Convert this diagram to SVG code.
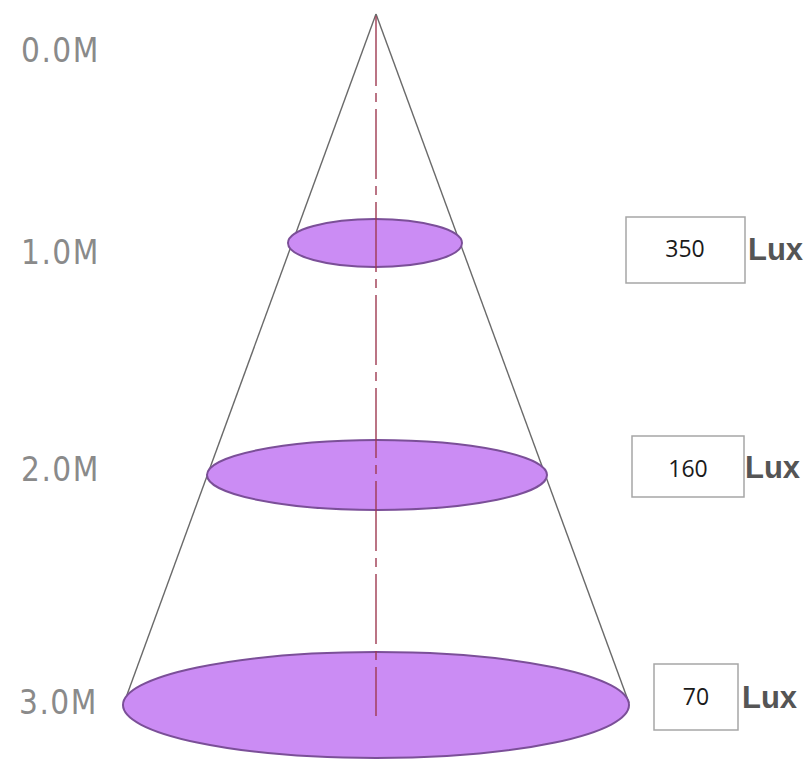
<svg xmlns="http://www.w3.org/2000/svg" width="806" height="771" viewBox="0 0 806 771">
<defs>
<style>
.disc{fill:#cb8cf4;stroke:#7b4f98;stroke-width:2}
.edge{stroke:#6a6a6a;stroke-width:1.4;fill:none}
.axis{stroke:#9e3a52;stroke-width:1.4;stroke-dasharray:70 7 9 7;fill:none}
.m{font-family:"DejaVu Sans Condensed","DejaVu Sans","Liberation Sans",sans-serif;font-size:33px;fill:#8a8a8a;letter-spacing:1.5px}
.box{fill:#fff;stroke:#a6a6a6;stroke-width:1.5}
.val{font-family:"Open Sans","Liberation Sans",sans-serif;font-size:23px;fill:#1a1a1a;text-anchor:middle}
.lux{font-family:"Liberation Sans",sans-serif;font-size:31px;fill:#555555;font-weight:bold}
</style>
</defs>
<rect width="806" height="771" fill="#fff"/>
<g id="connectors">
<line class="edge" x1="376" y1="14" x2="124" y2="703"/>
<line class="edge" x1="376" y1="14" x2="629" y2="703"/>
</g>
<g id="disc3"><ellipse class="disc" cx="376" cy="705" rx="253" ry="53"/></g>
<g id="disc2"><ellipse class="disc" cx="377" cy="475" rx="170" ry="35"/></g>
<g id="disc1"><ellipse class="disc" cx="375" cy="243" rx="87" ry="24"/></g>
<g id="axis"><line class="axis" x1="376" y1="16" x2="376" y2="716"/></g>
<g id="labels">
<text class="m" x="21" y="62">0.0M</text>
<text class="m" x="21" y="264">1.0M</text>
<text class="m" x="21" y="481">2.0M</text>
<text class="m" x="19" y="714">3.0M</text>
</g>
<g id="lux350"><rect class="box" x="626" y="217" width="119" height="66"/><text class="val" x="685" y="257">350</text><text class="lux" x="748" y="260">Lux</text></g>
<g id="lux160"><rect class="box" x="632" y="436" width="112" height="61"/><text class="val" x="688" y="477">160</text><text class="lux" x="745" y="478">Lux</text></g>
<g id="lux70"><rect class="box" x="654" y="664" width="84" height="66"/><text class="val" x="696" y="705">70</text><text class="lux" x="742" y="708">Lux</text></g>
</svg>
